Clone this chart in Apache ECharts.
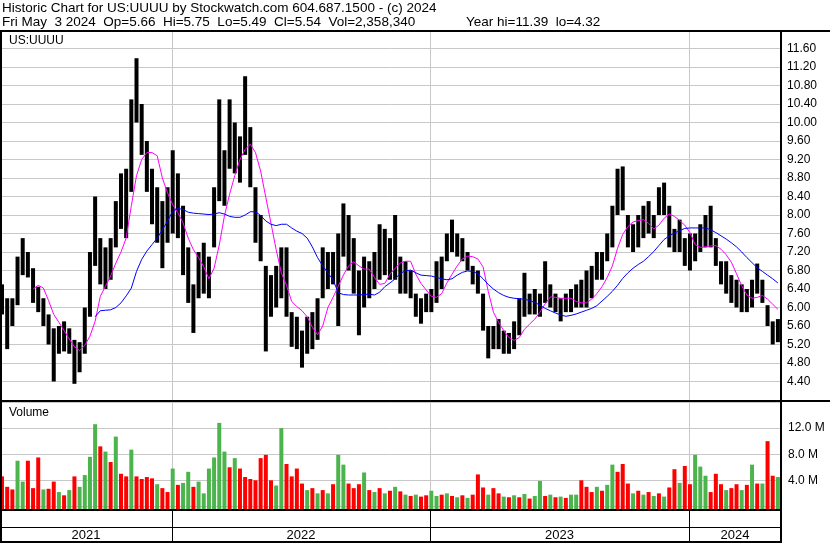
<!DOCTYPE html>
<html>
<head>
<meta charset="utf-8">
<script src="https://cdn.jsdelivr.net/npm/echarts@6/dist/echarts.min.js"></script>
<style>
  html, body { margin: 0; padding: 0; background: #fff; }
  #chart { width: 830px; height: 543px; }
</style>
</head>
<body>
<div id="chart"></div>
<script>
// weekly samples (index 0 = first week of May 2021, 150 = week of May 3 2024)
var lows = [
  5.85, 5.1, 5.6, 6.05, 6.7, 6.65, 6.1, 5.9, 5.6, 5.2,
  4.4, 5.0, 5.05, 5.0, 4.35, 4.6, 5.0, 5.8, 6.9, 6.5,
  6.4, 6.6, 7.3, 7.7, 7.5, 8.5, 10.0, 9.3, 8.5, 7.8,
  7.4, 6.85, 7.4, 7.6, 7.5, 6.7, 6.1, 5.45, 6.2, 6.3,
  6.2, 7.3, 8.3, 8.2, 9.0, 8.9, 8.7, 9.3, 8.6, 7.4,
  7.0, 5.05, 5.8, 6.0, 6.2, 5.8, 5.15, 5.1, 4.7, 5.0,
  5.1, 5.3, 6.2, 6.4, 6.5, 5.6, 7.1, 6.8, 6.3, 5.4,
  6.0, 6.2, 6.4, 6.6, 6.7, 6.6, 6.6, 6.3, 6.3, 6.2,
  5.8, 5.65, 5.9, 5.9, 6.1, 6.4, 7.0, 7.2, 7.1, 7.0,
  6.8, 6.5, 6.3, 5.5, 4.9, 5.1, 5.1, 5.0, 5.0, 5.1,
  5.4, 5.8, 5.85, 5.85, 5.8, 6.1, 6.0, 5.9, 5.7, 5.9,
  5.9, 6.0, 6.0, 6.0, 6.2, 6.6, 6.6, 7.0, 7.3, 8.0,
  8.1, 7.3, 7.2, 7.3, 7.5, 7.6, 7.5, 8.0, 8.0, 7.3,
  7.2, 7.2, 6.9, 6.8, 7.0, 7.2, 7.3, 7.3, 6.9, 6.5,
  6.3, 6.1, 6.0, 5.9, 5.9, 6.0, 6.3, 6.1, 5.6, 5.2,
  5.25
];
var highs = [
  6.5, 6.2, 6.2, 7.1, 7.5, 7.2, 6.85, 6.45, 6.2, 5.85,
  5.55, 5.6, 5.7, 5.55, 5.3, 5.25, 6.0, 7.2, 8.4, 7.5,
  7.3, 7.5, 8.3, 8.9, 9.0, 10.5, 11.39, 10.4, 9.6, 9.0,
  8.6, 8.3, 8.6, 9.4, 8.9, 8.2, 7.3, 6.5, 7.2, 7.4,
  7.1, 8.6, 10.5, 9.4, 10.5, 10.0, 9.7, 11.0, 9.9, 8.6,
  8.0, 6.9, 6.7, 6.9, 7.3, 7.3, 5.9, 5.8, 5.5, 5.8,
  5.9, 6.2, 7.3, 7.2, 7.2, 7.6, 8.25, 8.0, 7.5, 6.8,
  7.1, 7.0, 7.2, 7.8, 7.7, 7.5, 8.0, 7.1, 7.0, 6.8,
  6.3, 6.2, 6.3, 6.4, 7.0, 7.1, 7.6, 7.9, 7.6, 7.5,
  7.2, 6.9, 6.8, 6.3, 5.6, 5.6, 5.75, 5.5, 5.45, 5.7,
  6.2, 6.75, 6.3, 6.4, 6.3, 7.0, 6.5, 6.3, 6.2, 6.3,
  6.4, 6.5, 6.6, 6.8, 6.9, 7.2, 7.2, 7.6, 8.2, 9.0,
  9.05, 8.0, 7.8, 8.0, 8.2, 8.3, 8.0, 8.6, 8.7, 8.2,
  7.7, 7.9, 7.5, 7.6, 7.6, 7.8, 8.0, 8.2, 7.5, 7.0,
  7.0, 6.7, 6.6, 6.5, 6.4, 6.6, 6.95, 6.6, 6.05, 5.7,
  5.75
];
// magenta average, starts at week 6
var maFast = [null, null, null, null, null, null,
  6.4, 6.48, 6.42, 6.15, 5.85, 5.68, 5.5, 5.32, 5.15, 5.07,
  5.18, 5.38, 5.7, 6.24, 6.46, 6.68, 6.96, 7.2, 7.5, 8.2,
  8.85, 9.2, 9.35, 9.35, 9.28, 8.8, 8.48, 8.22, 8.05, 7.83,
  7.5, 7.25, 7.08, 6.88, 6.62, 6.85, 7.35, 7.98, 8.45, 8.85,
  9.2, 9.42, 9.53, 9.35, 8.95, 8.38, 7.82, 7.25, 6.75, 6.48,
  6.13, 6.02, 5.93, 5.8, 5.57, 5.41, 5.6, 6.0, 6.22, 6.46,
  6.7, 6.9, 6.99, 6.9, 6.83, 6.83, 6.65, 6.5, 6.52, 6.72,
  6.85, 6.96, 7.0, 7.0, 6.72, 6.52, 6.38, 6.24, 6.22, 6.3,
  6.53, 6.72, 6.9, 7.05, 7.11, 7.1, 7.05, 6.88, 6.35, 5.9,
  5.68, 5.5, 5.35, 5.29, 5.35, 5.53, 5.64, 5.75, 5.9, 6.08,
  6.23, 6.22, 6.2, 6.2, 6.2, 6.13, 6.1, 6.1, 6.18, 6.3,
  6.45, 6.65, 6.9, 7.28, 7.58, 7.75, 7.85, 7.88, 7.9, 7.82,
  7.7, 7.78, 7.93, 8.02, 7.97, 7.88, 7.78, 7.62, 7.36, 7.3,
  7.31, 7.33, 7.34, 7.26, 7.14, 6.98, 6.73, 6.47, 6.27, 6.2,
  6.22, 6.26, 6.18, 6.07, 5.96
];
// blue average, starts at week 18
var maSlow = [null, null, null, null, null, null, null, null, null, null,
  null, null, null, null, null, null, null, null,
  5.8, 5.93, 5.94, 5.95, 6.0, 6.1, 6.25, 6.42, 6.78, 7.04,
  7.22, 7.36, 7.5, 7.68, 7.87, 8.08, 8.14, 8.12, 8.06, 8.04,
  8.03, 8.02, 8.01, 8.02, 8.05, 8.02, 7.97, 7.95, 7.95, 8.0,
  8.07, 8.07, 7.99, 7.87, 7.8, 7.77, 7.8, 7.8, 7.72, 7.65,
  7.6, 7.5, 7.31, 7.08, 6.9, 6.75, 6.6, 6.32, 6.28, 6.27,
  6.27, 6.27, 6.28, 6.29, 6.27, 6.33, 6.45, 6.53, 6.62, 6.74,
  6.79, 6.81, 6.75, 6.7, 6.69, 6.68, 6.65, 6.62, 6.6, 6.62,
  6.7, 6.76, 6.79, 6.78, 6.73, 6.62, 6.5, 6.4, 6.32, 6.26,
  6.22, 6.2, 6.19, 6.18, 6.15, 6.11, 6.05, 5.98, 5.93, 5.88,
  5.84, 5.81, 5.83, 5.86, 5.9, 5.94, 5.98, 6.04, 6.14, 6.24,
  6.35, 6.48, 6.63, 6.75, 6.85, 6.93, 7.0, 7.1, 7.21, 7.34,
  7.47, 7.55, 7.61, 7.66, 7.71, 7.72, 7.72, 7.72, 7.72, 7.68,
  7.62, 7.55, 7.48, 7.4, 7.31, 7.2, 7.08, 6.97, 6.86, 6.78,
  6.7, 6.62, 6.53
];
// volume in millions
var volumes = [
  4.6, 3.0, 2.6, 7.0, 3.8, 7.0, 2.8, 7.5, 2.6, 2.7,
  3.8, 2.2, 1.7, 2.5, 4.6, 3.0, 4.8, 7.6, 12.6, 9.2,
  8.4, 6.8, 10.7, 5.0, 4.6, 8.7, 4.6, 4.2, 4.5, 4.3,
  3.4, 2.8, 2.2, 5.8, 3.3, 3.6, 5.3, 3.0, 3.8, 2.0,
  5.8, 7.5, 12.8, 8.4, 6.0, 7.4, 5.8, 4.5, 4.2, 4.0,
  7.4, 7.9, 4.0, 3.2, 12.0, 6.5, 4.6, 5.8, 3.5, 2.5,
  2.8, 2.0, 2.5, 2.0, 3.4, 7.9, 6.4, 3.5, 2.8, 3.4,
  5.2, 2.5, 2.2, 2.8, 2.0, 2.4, 3.0, 2.3, 1.8, 1.6,
  1.8, 1.5, 1.7, 2.4, 1.6, 1.8, 2.0, 1.6, 1.4, 1.7,
  1.3, 1.8, 4.9, 2.9, 1.8, 2.8, 2.0, 1.5, 1.4, 1.7,
  1.4, 1.9, 1.2, 1.6, 3.9, 1.6, 1.8, 1.4, 1.5, 1.3,
  1.8, 1.8, 4.0, 3.0, 2.2, 3.0, 2.4, 3.3, 6.4, 5.3,
  6.5, 3.5, 2.0, 2.4, 1.8, 2.2, 1.6, 2.0, 1.5, 2.9,
  5.7, 3.6, 6.2, 3.4, 7.9, 6.1, 4.7, 2.2, 5.0, 3.4,
  2.5, 2.8, 3.4, 2.5, 3.3, 6.4, 3.5, 3.5, 10.0, 4.7,
  4.5
];
// u = up (green), d = down (red)
var volDir = ('ddduudddud dududuuuud ududdudddd udduduuduu uuuududddd ' +
  'ddduuddddu dududuuddd ududududud udduududud uddduddudu ' +
  'duduududud uuddduduud ddudududud dudduuuddd uddudududd u').replace(/ /g, '');

var yearLabels = ['2021', '2022', '2023', '2024'];
var yearStarts = [32.86, 82.74, 132.8]; // week index of Jan 1

var xMin = -0.39, xMax = 150.6;
var FONT = '"Liberation Sans", Arial, sans-serif';
var GREEN = '#4cb44c', RED = '#ff0000';

var yearEdges = [xMin].concat(yearStarts, [xMax]);
var yearMid = yearLabels.map(function (y, i) { return [(yearEdges[i] + yearEdges[i + 1]) / 2]; });

var myChart = echarts.init(document.getElementById('chart'));

function vline (color) {
  return function (params, api) {
    var x = Math.round(api.coord([api.value(0), 0])[0]) + 0.5;
    var cs = params.coordSys;
    return {
      type: 'line',
      shape: { x1: x, y1: cs.y, x2: x, y2: cs.y + cs.height },
      style: { stroke: color, lineWidth: 1 }
    };
  };
}

function txt (x, y, s, size) {
  return { type: 'text', z: 100, style: { x: x, y: y, text: s, font: size + 'px ' + FONT, fill: '#000',
    textVerticalAlign: 'middle', verticalAlign: 'middle' } };
}

var xAxisBase = { type: 'value', min: xMin, max: xMax, show: false };

var option = {
  animation: false,
  backgroundColor: '#fff',
  grid: [
    { left: 0, right: 49, top: 30, height: 370 },
    { left: 0, right: 49, top: 402, height: 104.4 },
    { left: 0, right: 49, top: 510, height: 32 }
  ],
  xAxis: [
    Object.assign({ gridIndex: 0 }, xAxisBase),
    Object.assign({ gridIndex: 1 }, xAxisBase),
    Object.assign({ gridIndex: 2 }, xAxisBase)
  ],
  yAxis: [
    {
      gridIndex: 0, type: 'value', position: 'right', min: 4.0, max: 12.0, interval: 0.4,
      axisLine: { show: false }, axisTick: { show: false },
      axisLabel: {
        showMinLabel: false, showMaxLabel: false, margin: 6,
        color: '#000', fontSize: 12, fontFamily: FONT,
        formatter: function (v) { return v.toFixed(2); }
      },
      splitLine: { lineStyle: { color: '#c8c8c8', width: 1 } }
    },
    {
      gridIndex: 1, type: 'value', position: 'right', min: 0, max: 16, interval: 4,
      axisLine: { show: false }, axisTick: { show: false },
      axisLabel: {
        showMinLabel: false, showMaxLabel: false, margin: 7,
        color: '#000', fontSize: 12, fontFamily: FONT,
        formatter: function (v) { return v.toFixed(1) + ' M'; }
      },
      splitLine: { lineStyle: { color: '#c8c8c8', width: 1 } }
    },
    { gridIndex: 2, type: 'value', min: 0, max: 1, show: false }
  ],
  series: [
    // year gridlines
    { type: 'custom', xAxisIndex: 0, yAxisIndex: 0, z: 1, silent: true,
      renderItem: vline('#c8c8c8'), data: yearStarts.map(function (v) { return [v]; }) },
    { type: 'custom', xAxisIndex: 1, yAxisIndex: 1, z: 1, silent: true,
      renderItem: vline('#c8c8c8'), data: yearStarts.map(function (v) { return [v]; }) },
    { type: 'custom', xAxisIndex: 2, yAxisIndex: 2, z: 1, silent: true,
      renderItem: vline('#000'), data: yearStarts.map(function (v) { return [v]; }) },
    // price bars
    {
      type: 'custom', xAxisIndex: 0, yAxisIndex: 0, z: 3,
      renderItem: function (params, api) {
        var t = api.coord([api.value(0), api.value(2)]);
        var b = api.coord([api.value(0), api.value(1)]);
        return {
          type: 'rect',
          shape: { x: t[0] - 2, y: t[1], width: 4, height: Math.max(1, b[1] - t[1]) },
          style: { fill: '#000' }
        };
      },
      data: highs.map(function (h, i) { return [i, lows[i], h]; })
    },
    {
      type: 'line', xAxisIndex: 0, yAxisIndex: 0, z: 4, showSymbol: false,
      lineStyle: { color: '#ff00ff', width: 1 },
      data: maFast.map(function (v, i) { return [i, v]; }).filter(function (d) { return d[1] != null; })
    },
    {
      type: 'line', xAxisIndex: 0, yAxisIndex: 0, z: 4, showSymbol: false,
      lineStyle: { color: '#0000ff', width: 1 },
      data: maSlow.map(function (v, i) { return [i, v]; }).filter(function (d) { return d[1] != null; })
    },
    // volume
    {
      type: 'custom', xAxisIndex: 1, yAxisIndex: 1, z: 3, clip: false,
      renderItem: function (params, api) {
        var p = api.coord([api.value(0), api.value(1)]);
        var base = params.coordSys.y + params.coordSys.height + 3;
        return {
          type: 'rect',
          shape: { x: p[0] - 2, y: p[1], width: 4, height: base - p[1] },
          style: { fill: api.value(2) ? GREEN : RED }
        };
      },
      data: volumes.map(function (v, i) { return [i, v, volDir.charAt(i) === 'u' ? 1 : 0]; })
    },
    // year labels
    {
      type: 'custom', xAxisIndex: 2, yAxisIndex: 2, z: 5, silent: true,
      renderItem: function (params, api) {
        var x = api.coord([api.value(0), 0])[0];
        return {
          type: 'text',
          style: {
            x: x, y: 535, text: yearLabels[params.dataIndex],
            fill: '#000', font: '13px ' + FONT,
            align: 'center', verticalAlign: 'middle',
            textAlign: 'center', textVerticalAlign: 'middle'
          }
        };
      },
      data: yearMid
    }
  ],
  graphic: [
    { type: 'rect', z: 100, shape: { x: 0, y: 30, width: 830, height: 2 }, style: { fill: '#000' } },
    { type: 'rect', z: 100, shape: { x: 0, y: 30, width: 2, height: 513 }, style: { fill: '#000' } },
    { type: 'rect', z: 100, shape: { x: 780, y: 30, width: 2, height: 513 }, style: { fill: '#000' } },
    { type: 'rect', z: 100, shape: { x: 0, y: 400, width: 830, height: 2 }, style: { fill: '#000' } },
    { type: 'rect', z: 100, shape: { x: 0, y: 509, width: 782, height: 2 }, style: { fill: '#000' } },
    { type: 'rect', z: 100, shape: { x: 0, y: 527, width: 782, height: 1 }, style: { fill: '#000' } },
    { type: 'rect', z: 100, shape: { x: 0, y: 541, width: 782, height: 2 }, style: { fill: '#000' } },
    txt(2, 8, 'Historic Chart for US:UUUU by Stockwatch.com 604.687.1500 - (c) 2024', 13.5),
    txt(2, 22, 'Fri May  3 2024  Op=5.66  Hi=5.75  Lo=5.49  Cl=5.54  Vol=2,358,340', 13.5),
    txt(466, 22, 'Year hi=11.39  lo=4.32', 13.5),
    txt(9, 41, 'US:UUUU', 12),
    txt(9, 413, 'Volume', 12)
  ]
};

myChart.setOption(option);
</script>
</body>
</html>
